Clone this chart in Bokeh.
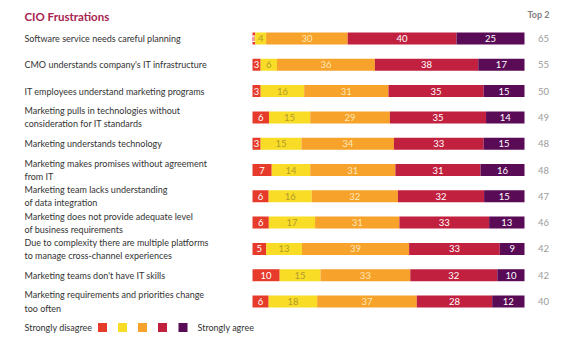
import numpy as np
from bokeh.plotting import figure
from bokeh.models import Range1d, Label
from bokeh.core.properties import value
from bokeh.embed import file_html
from bokeh.resources import INLINE

title = "CIO Frustrations"
categories = [
    "Software service needs careful planning",
    "CMO understands company's IT infrastructure",
    "IT employees understand marketing programs",
    "Marketing pulls in technologies without\nconsideration for IT standards",
    "Marketing understands technology",
    "Marketing makes promises without agreement\nfrom IT",
    "Marketing team lacks understanding\nof data integration",
    "Marketing does not provide adequate level\nof business requirements",
    "Due to complexity there are multiple platforms\nto manage cross-channel experiences",
    "Marketing teams don't have IT skills",
    "Marketing requirements and priorities change\ntoo often",
]
strongly_disagree = [1, 3, 3, 6, 3, 7, 6, 6, 5, 10, 6]
disagree = [4, 6, 16, 15, 15, 14, 16, 17, 13, 15, 18]
neutral = [30, 36, 31, 29, 34, 31, 32, 31, 39, 33, 37]
agree = [40, 38, 35, 35, 33, 31, 32, 33, 33, 32, 28]
strongly_agree = [25, 17, 15, 14, 15, 16, 15, 13, 9, 10, 12]
top2 = [65, 55, 50, 49, 48, 48, 47, 46, 42, 42, 40]
legend_low = "Strongly disagree"
legend_high = "Strongly agree"
top2_header = "Top 2"

colors = ["#e63b2b", "#f8dc26", "#f6a22b", "#c1213f", "#5a0b56"]
text_colors = ["#ffffff", "#b39b2c", "#fde8b8", "#ffffff", "#ffffff"]

W, H = 564, 342
BAR0, BARW = 252, 272          # pixel layout of the 0..100 scale
ROW0, ROWH = 38, 26.3

def px2x(px):
    return (px - BAR0) * 100.0 / BARW

def py2y(py):
    return (py - ROW0) / ROWH

p = figure(width=W, height=H, output_backend="svg", toolbar_location=None,
           x_range=Range1d(px2x(0), px2x(W)),
           y_range=Range1d(py2y(H), py2y(0)),
           min_border=0)
p.axis.visible = False
p.grid.visible = False
p.outline_line_color = None
p.background_fill_color = "white"
p.border_fill_color = "white"

FNAME = "Lato"
FONT = value(FNAME)

series = np.array([strongly_disagree, disagree, neutral, agree, strongly_agree], dtype=float)
norm = series / series.sum(axis=0) * 100
right = np.cumsum(norm, axis=0)
left = right - norm
rows = np.arange(len(categories))

for k in range(5):
    p.hbar(y=rows, left=left[k], right=right[k], height=12 / ROWH,
           fill_color=colors[k], line_color=None)
    p.text(x=(left[k] + right[k]) / 2, y=rows, text=[str(v) for v in series[k].astype(int)],
           text_align="center", text_baseline="middle", text_font=FONT,
           text_font_size="9.5px", text_color=text_colors[k])

p.text(x=[px2x(24)] * len(rows), y=rows, text=categories, text_align="left",
       text_baseline="middle", text_font=FONT, text_font_size="9px",
       text_color="#333333", text_line_height=1.2)

p.text(x=[px2x(543)] * len(rows), y=rows, text=[str(v) for v in top2],
       text_align="center", text_baseline="middle", text_font=FONT,
       text_font_size="9.5px", text_color="#9a9a9a")

p.add_layout(Label(x=24, y=H - 16, x_units="screen", y_units="screen", text=title,
                   text_font=FNAME, text_font_size="11.5px",
                   text_font_style="bold", text_color="#a8234f",
                   text_baseline="middle"))
p.add_layout(Label(x=538, y=H - 14, x_units="screen", y_units="screen", text=top2_header,
                   text_font=FNAME, text_font_size="9px",
                   text_font_style="bold", text_color="#808080",
                   text_baseline="middle", text_align="center"))

ly = py2y(327)
p.text(x=[px2x(24)], y=[ly], text=[legend_low], text_align="left", text_baseline="middle",
       text_font=FONT, text_font_size="9px", text_color="#333333")
p.scatter(x=[px2x(v) for v in (102, 122, 142, 162, 182.5)], y=[ly] * 5, marker="square",
          size=9, fill_color=colors, line_color=None)
p.text(x=[px2x(197)], y=[ly], text=[legend_high], text_align="left", text_baseline="middle",
       text_font=FONT, text_font_size="9px", text_color="#333333")

open("out.html", "w").write(file_html(p, INLINE))
